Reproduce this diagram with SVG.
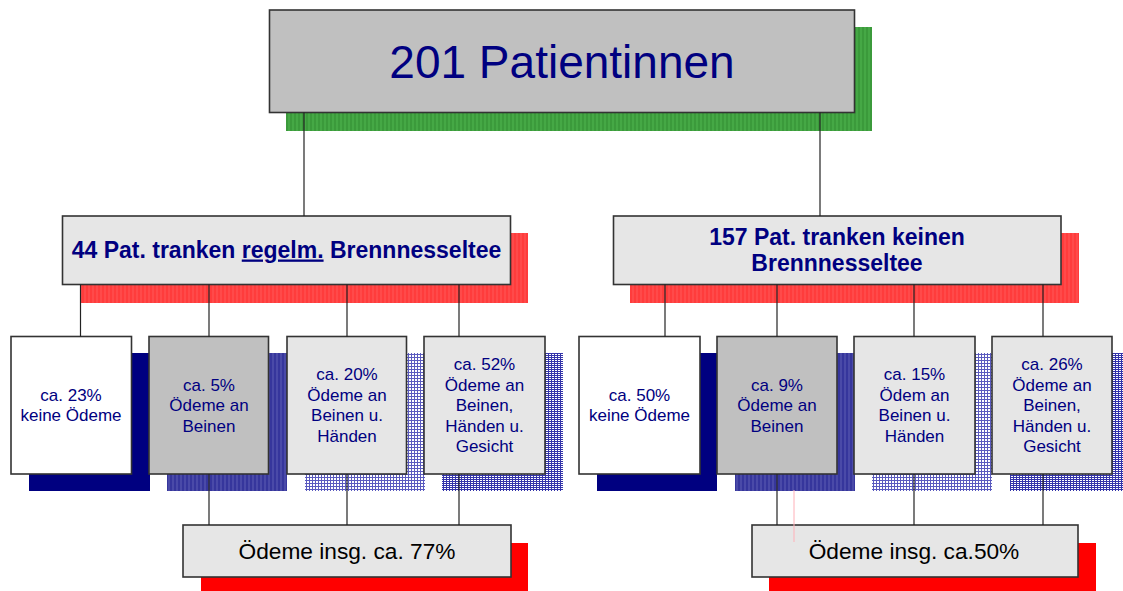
<svg xmlns="http://www.w3.org/2000/svg" width="1123" height="591" viewBox="0 0 1123 591">
<defs>
<pattern id="pGreen" width="4" height="4" patternUnits="userSpaceOnUse"><rect width="4" height="4" fill="#3b9a3b"/><rect width="2" height="4" fill="#45a845"/></pattern>
<pattern id="pRed" width="4" height="4" patternUnits="userSpaceOnUse"><rect width="4" height="4" fill="#ff3c3c"/><rect width="2" height="4" fill="#ff4a4a"/></pattern>
<pattern id="pStripe" width="4" height="4" patternUnits="userSpaceOnUse"><rect width="4" height="4" fill="#36369c"/><rect width="2" height="4" fill="#4a4aa8"/></pattern>
<pattern id="pDots" width="3" height="3" patternUnits="userSpaceOnUse"><rect width="3" height="3" fill="#ffffff"/><rect width="3" height="1" fill="#5a5abf"/><rect width="1" height="3" fill="#5a5abf"/></pattern>
<pattern id="pDense" width="3" height="2" patternUnits="userSpaceOnUse"><rect width="3" height="2" fill="#3434aa"/><rect x="0" y="0" width="2" height="1" fill="#ffffff"/></pattern>
</defs>
<style>
.box{stroke:#333;stroke-width:1.6}
.g1{fill:#c0c0c0}
.g2{fill:#e6e6e6}
.wh{fill:#ffffff}
.t{font-family:"Liberation Sans",Arial,sans-serif;fill:#000080;text-anchor:middle}
.small{font-size:17px}
.mid{font-size:23px;font-weight:bold}
.bot{font-family:"Liberation Sans",Arial,sans-serif;fill:#000;text-anchor:middle;font-size:22.7px}
.con{stroke:#222;stroke-width:1.2;fill:none}
</style>

<g id="top">
<rect x="286" y="27" width="586" height="104" fill="url(#pGreen)"/>
<rect class="box g1" x="269.5" y="10" width="585" height="102.5"/>
<text class="t" x="562" y="77.5" font-size="46">201 Patientinnen</text>
</g>

<g id="mid-left">
<rect x="80" y="233" width="448" height="70" fill="url(#pRed)"/>
<rect class="box g2" x="62.5" y="216" width="448" height="68.5"/>
<text class="t mid" x="286.5" y="257.5">44 Pat. tranken <tspan text-decoration="underline">regelm.</tspan> Brennnesseltee</text>
</g>

<g id="mid-right">
<rect x="630" y="233" width="449" height="70" fill="url(#pRed)"/>
<rect class="box g2" x="613.5" y="216" width="447.5" height="68.5"/>
<text class="t mid" x="837" y="244.5">157 Pat. tranken keinen</text>
<text class="t mid" x="837" y="270.5">Brennnesseltee</text>
</g>

<g id="l1">
<rect x="29" y="353" width="121" height="138" fill="#000080"/>
<rect class="box wh" x="11" y="336.5" width="120.5" height="137.5"/>
<text class="t small" x="71" y="400.5">ca. 23%</text>
<text class="t small" x="71" y="421">keine Ödeme</text>
</g>
<g id="l2">
<rect x="167" y="353" width="120" height="138" fill="url(#pStripe)"/>
<rect class="box g1" x="149" y="336.5" width="119.5" height="137.5"/>
<text class="t small" x="209" y="390.5">ca. 5%</text>
<text class="t small" x="209" y="411">Ödeme an</text>
<text class="t small" x="209" y="431.5">Beinen</text>
</g>
<g id="l3">
<rect x="305" y="353" width="120" height="138" fill="url(#pDots)"/>
<rect class="box g2" x="287" y="336.5" width="119.5" height="137.5"/>
<text class="t small" x="347" y="380.25">ca. 20%</text>
<text class="t small" x="347" y="400.75">Ödeme an</text>
<text class="t small" x="347" y="421.25">Beinen u.</text>
<text class="t small" x="347" y="441.75">Händen</text>
</g>
<g id="l4">
<rect x="442" y="353" width="121" height="138" fill="url(#pDense)"/>
<rect class="box g2" x="424" y="336.5" width="121" height="137.5"/>
<text class="t small" x="484.5" y="370">ca. 52%</text>
<text class="t small" x="484.5" y="390.5">Ödeme an</text>
<text class="t small" x="484.5" y="411">Beinen,</text>
<text class="t small" x="484.5" y="431.5">Händen u.</text>
<text class="t small" x="484.5" y="452">Gesicht</text>
</g>

<g id="r1">
<rect x="597" y="353" width="120" height="138" fill="#000080"/>
<rect class="box wh" x="579" y="336.5" width="121" height="137.5"/>
<text class="t small" x="639.5" y="400.5">ca. 50%</text>
<text class="t small" x="639.5" y="421">keine Ödeme</text>
</g>
<g id="r2">
<rect x="735" y="353" width="120" height="138" fill="url(#pStripe)"/>
<rect class="box g1" x="717" y="336.5" width="120" height="137.5"/>
<text class="t small" x="777" y="390.5">ca. 9%</text>
<text class="t small" x="777" y="411">Ödeme an</text>
<text class="t small" x="777" y="431.5">Beinen</text>
</g>
<g id="r3">
<rect x="872" y="353" width="120" height="138" fill="url(#pDots)"/>
<rect class="box g2" x="854" y="336.5" width="121" height="137.5"/>
<text class="t small" x="914.5" y="380.25">ca. 15%</text>
<text class="t small" x="914.5" y="400.75">Ödem an</text>
<text class="t small" x="914.5" y="421.25">Beinen u.</text>
<text class="t small" x="914.5" y="441.75">Händen</text>
</g>
<g id="r4">
<rect x="1010" y="353" width="113" height="138" fill="url(#pDense)"/>
<rect class="box g2" x="992" y="336.5" width="120" height="137.5"/>
<text class="t small" x="1052" y="370">ca. 26%</text>
<text class="t small" x="1052" y="390.5">Ödeme an</text>
<text class="t small" x="1052" y="411">Beinen,</text>
<text class="t small" x="1052" y="431.5">Händen u.</text>
<text class="t small" x="1052" y="452">Gesicht</text>
</g>

<g id="sum-left">
<rect x="201" y="543" width="327" height="48" fill="#ff0000"/>
<rect class="box g2" x="183" y="525" width="328" height="52"/>
<text class="bot" x="347" y="558.5">Ödeme insg. ca. 77%</text>
</g>
<g id="sum-right">
<rect x="769" y="543" width="327" height="48" fill="#ff0000"/>
<rect class="box g2" x="752" y="525" width="326" height="52"/>
<text class="bot" x="914" y="558.5">Ödeme insg. ca.50%</text>
</g>

<g id="connectors" class="con">
<line x1="304" y1="112.5" x2="304" y2="216"/>
<line x1="820" y1="112.5" x2="820" y2="216"/>
<line x1="80.5" y1="284.5" x2="80.5" y2="336.5"/>
<line x1="209" y1="284.5" x2="209" y2="336.5"/>
<line x1="347" y1="284.5" x2="347" y2="336.5"/>
<line x1="459" y1="284.5" x2="459" y2="336.5"/>
<line x1="665" y1="284.5" x2="665" y2="336.5"/>
<line x1="777" y1="284.5" x2="777" y2="336.5"/>
<line x1="914" y1="284.5" x2="914" y2="336.5"/>
<line x1="1043" y1="284.5" x2="1043" y2="336.5"/>
<line x1="209" y1="474" x2="209" y2="525"/>
<line x1="347" y1="474" x2="347" y2="525"/>
<line x1="459" y1="474" x2="459" y2="525"/>
<line x1="777" y1="474" x2="777" y2="525"/>
<line x1="914" y1="474" x2="914" y2="525"/>
<line x1="1043" y1="474" x2="1043" y2="525"/>
<line x1="794" y1="490" x2="794" y2="542" stroke="#ffb0b8" stroke-width="1"/>
</g>
</svg>
